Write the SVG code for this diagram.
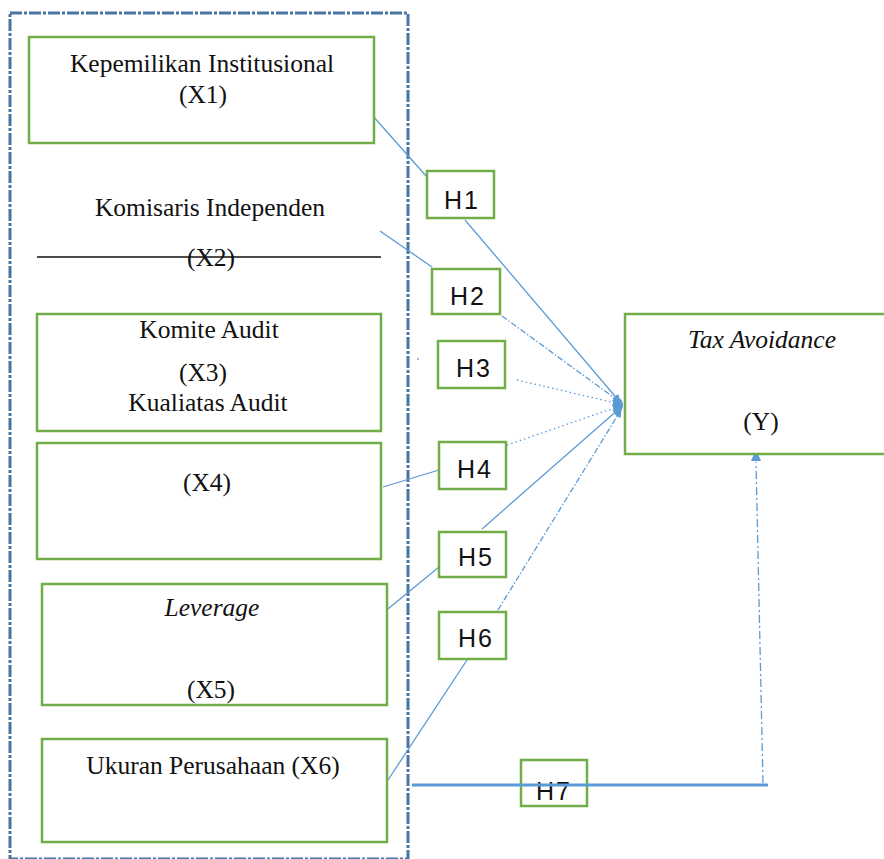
<svg xmlns="http://www.w3.org/2000/svg" width="884" height="859" viewBox="0 0 884 859">
<defs>
<style>
.box{fill:#fff;stroke:#70ad47;stroke-width:2.5}
.hbox{fill:#fff;stroke:#70ad47;stroke-width:2.5}
.t{font-family:"Liberation Serif","Times New Roman",serif;font-size:25.5px;fill:#111;text-anchor:middle}
.i{font-style:italic}
.h{font-family:"Liberation Sans",Arial,sans-serif;font-size:25px;fill:#111;text-anchor:middle;letter-spacing:2px}
.c{fill:none;stroke:#5b9bd5;stroke-width:1.3}
.dot{stroke-dasharray:1.5 3}
.dd{stroke-dasharray:6 2 1.5 2}
</style>
<marker id="arr" viewBox="0 0 10 10" refX="9" refY="5" markerWidth="8" markerHeight="8" orient="auto" markerUnits="userSpaceOnUse">
<path d="M0,0 L10,5 L0,10 z" fill="#5b9bd5"/>
</marker>
</defs>
<rect width="884" height="859" fill="#fff"/>
<rect id="frame" x="10" y="13" width="398" height="846" fill="none" stroke="#4a74a4" stroke-width="3" stroke-dasharray="12 2 3 2"/>

<g id="connectors">
<path class="c" d="M372,115 L427,177"/>
<path class="c" d="M465,220 L620,402" marker-end="url(#arr)"/>
<path class="c" d="M380,231 L432,267"/>
<path class="c dd" d="M502,316 L620,402" marker-end="url(#arr)"/>
<circle cx="418" cy="359" r="0.9" fill="#5b9bd5"/>
<path class="c dot" d="M517,380 L620,404" marker-end="url(#arr)"/>
<path class="c" d="M383,487 L439,470"/>
<path class="c dot" d="M507,445 L620,406" marker-end="url(#arr)"/>
<path class="c" d="M383,613 L439,567"/>
<path class="c" d="M482,529 L620,408" marker-end="url(#arr)"/>
<path class="c" d="M388,780 L467,660"/>
<path class="c dd" d="M498,610 L621,410" marker-end="url(#arr)"/>
<ellipse cx="618" cy="405" rx="5" ry="7" fill="#5b9bd5"/>
<path class="c" d="M763,783 L756,462" stroke-dasharray="8 3 2 3"/>
<polygon points="756,449 751,461 761,461" fill="#5b9bd5"/>
</g>

<g id="X1">
<rect class="box" x="29" y="37" width="345" height="106"/>
<text class="t" x="202" y="72">Kepemilikan Institusional</text>
<text class="t" x="203" y="103">(X1)</text>
</g>
<g id="X2">
<text class="t" x="210" y="216">Komisaris Independen</text>
<text class="t" x="211" y="266">(X2)</text>
<line x1="37" y1="257" x2="381" y2="257" stroke="#111" stroke-width="1.5"/>
</g>
<g id="X3">
<rect class="box" x="37" y="314" width="344" height="117"/>
<text class="t" x="209" y="338">Komite Audit</text>
<text class="t" x="203" y="381">(X3)</text>
<text class="t" x="208" y="411">Kualiatas Audit</text>
</g>
<g id="X4">
<rect class="box" x="37" y="443" width="344" height="116"/>
<text class="t" x="207" y="491">(X4)</text>
</g>
<g id="X5">
<rect class="box" x="42" y="584" width="345" height="121"/>
<text class="t i" x="212" y="616">Leverage</text>
<text class="t" x="211" y="698">(X5)</text>
</g>
<g id="X6">
<rect class="box" x="42" y="739" width="345" height="103"/>
<text class="t" x="213" y="774">Ukuran Perusahaan (X6)</text>
</g>
<g id="Y">
<rect class="box" x="625" y="314" width="270" height="140"/>
<text class="t i" x="762" y="348">Tax Avoidance</text>
<text class="t" x="761" y="430">(Y)</text>
</g>
<g id="H1"><rect class="hbox" x="427" y="171" width="67" height="47"/><text class="h" x="462" y="209">H1</text></g>
<g id="H2"><rect class="hbox" x="432" y="269" width="68" height="45"/><text class="h" x="468" y="305">H2</text></g>
<g id="H3"><rect class="hbox" x="438" y="341" width="67" height="47"/><text class="h" x="474" y="377">H3</text></g>
<g id="H4"><rect class="hbox" x="439" y="442" width="67" height="47"/><text class="h" x="475" y="478">H4</text></g>
<g id="H5"><rect class="hbox" x="439" y="532" width="67" height="45"/><text class="h" x="476" y="566">H5</text></g>
<g id="H6"><rect class="hbox" x="439" y="612" width="67" height="47"/><text class="h" x="476" y="647">H6</text></g>
<g id="H7"><rect class="hbox" x="521" y="760" width="66" height="46"/><text class="h" x="554" y="800">H7</text></g>
<g id="H7line"><line x1="412" y1="785" x2="768" y2="785" stroke="#5b9bd5" stroke-width="3"/></g>
</svg>
